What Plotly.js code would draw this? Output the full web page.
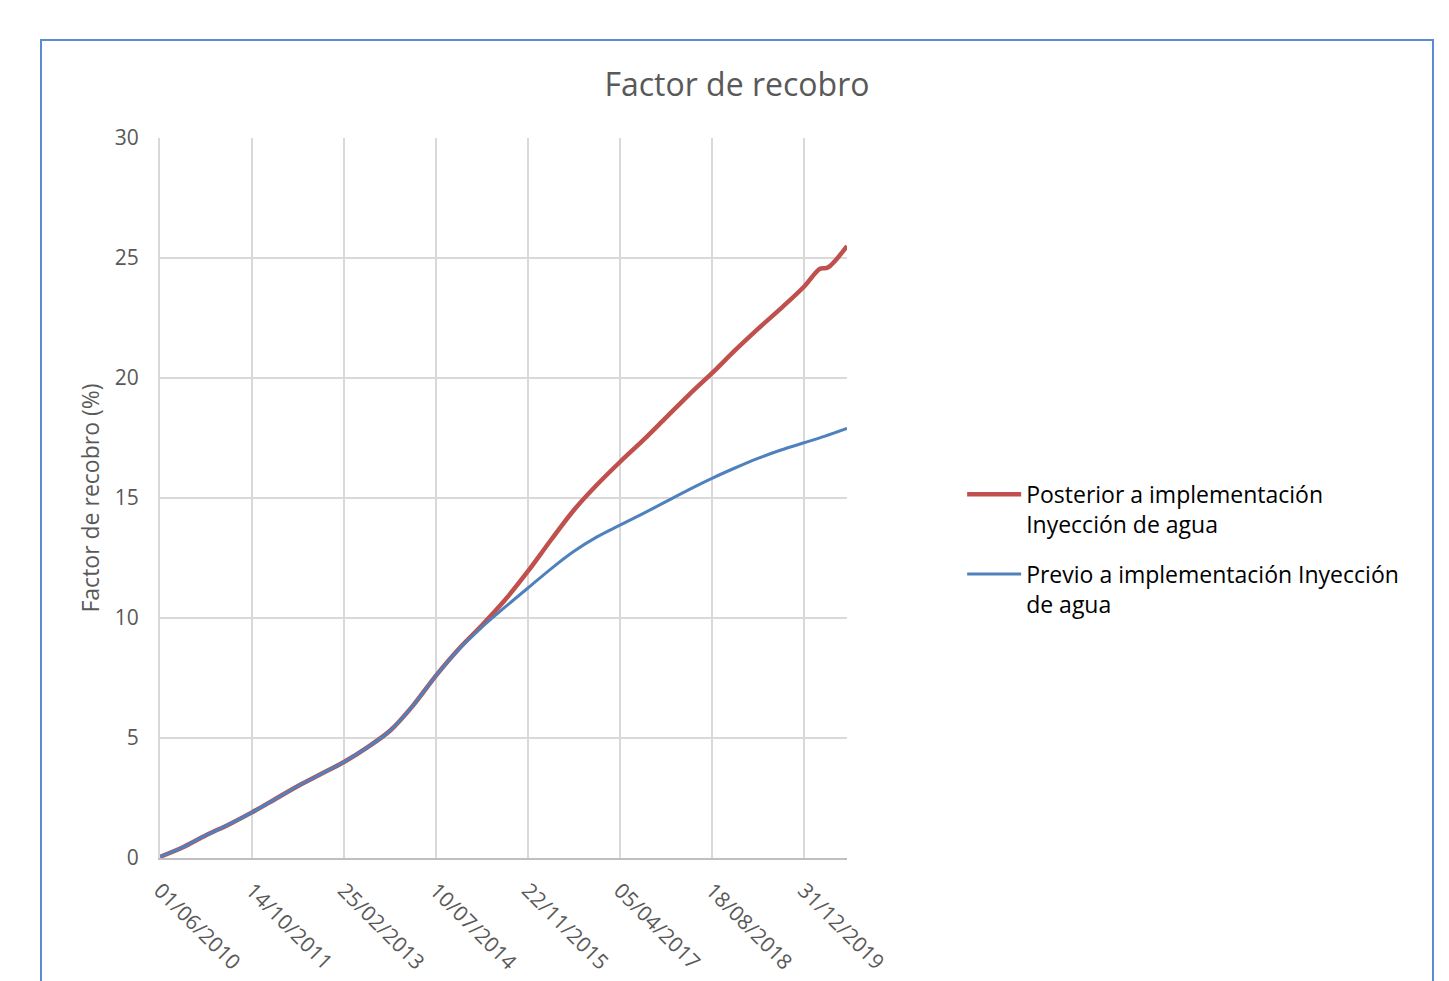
<!DOCTYPE html>
<html>
<head>
<meta charset="utf-8">
<script src="https://cdn.plot.ly/plotly-3.0.1.min.js"></script>
<style>
  html, body { margin: 0; padding: 0; background: #ffffff; }
  #frame { position: absolute; left: 40px; top: 39px; width: 1394px; height: 1000px;
           border: 2px solid #5b8bd0; box-sizing: border-box; pointer-events: none; z-index: 5; }
  #chart { position: absolute; left: 0; top: 0; width: 1449px; height: 981px; }
</style>
</head>
<body>
<div id="chart"></div>
<div id="frame"></div>
<script>
// Dates of the readings
const datesPost = [
  '2010-06-01','2010-10-04','2011-02-06','2011-06-11','2011-10-14','2012-02-16','2012-06-20',
  '2012-10-23','2013-02-25','2013-06-30','2013-11-02','2014-03-07','2014-07-10','2014-11-12',
  '2015-03-17','2015-07-20','2015-11-22','2016-03-26','2016-07-29','2016-12-01','2017-04-05',
  '2017-08-08','2017-12-11','2018-04-15','2018-08-18','2018-12-21','2019-04-25','2019-08-28',
  '2019-12-31','2020-03-27','2020-05-09','2020-08-21'
];
const valuesPost = [
  0.05, 0.45, 0.95, 1.4, 1.9, 2.45, 3.0,
  3.5, 4.0, 4.6, 5.3, 6.35, 7.6, 8.72,
  9.7, 10.75, 11.95, 13.25, 14.5, 15.55, 16.5,
  17.4, 18.35, 19.3, 20.2, 21.15, 22.05, 22.9,
  23.8, 24.55, 24.6, 25.5
];
const datesPrev = [
  '2010-06-01','2010-10-04','2011-02-06','2011-06-11','2011-10-14','2012-02-16','2012-06-20',
  '2012-10-23','2013-02-25','2013-06-30','2013-11-02','2014-03-07','2014-07-10','2014-11-12',
  '2015-03-17','2015-07-20','2015-11-22','2016-03-26','2016-07-29','2016-12-01','2017-04-05',
  '2017-08-08','2017-12-11','2018-04-15','2018-08-18','2018-12-21','2019-04-25','2019-08-28',
  '2019-12-31','2020-04-20','2020-08-21'
];
const valuesPrev = [
  0.05, 0.45, 0.95, 1.4, 1.9, 2.45, 3.0,
  3.5, 4.0, 4.6, 5.3, 6.35, 7.6, 8.7,
  9.62, 10.45, 11.25, 12.05, 12.78, 13.38, 13.87,
  14.35, 14.85, 15.35, 15.82, 16.25, 16.65, 17.0,
  17.3, 17.57, 17.9
];
const tickDates = ['2010-06-01','2011-10-14','2013-02-25','2014-07-10','2015-11-22','2017-04-05','2018-08-18','2019-12-31'];
const tickLabels = ['01/06/2010','14/10/2011','25/02/2013','10/07/2014','22/11/2015','05/04/2017','18/08/2018','31/12/2019'];
const seriesNames = ['Posterior a implementación<br>Inyección de agua', 'Previo a implementación Inyección<br>de agua'];

const FONT = 'Open Sans, Noto Sans, sans-serif';
const traces = [
  { x: datesPost, y: valuesPost, type: 'scatter', mode: 'lines', name: seriesNames[0], legendgroup: 'g1',
    line: { color: '#c0504d', width: 4.5, shape: 'spline', smoothing: 0.9 } },
  { x: datesPrev, y: valuesPrev, type: 'scatter', mode: 'lines', name: seriesNames[1], legendgroup: 'g2',
    line: { color: '#4f81bd', width: 3, shape: 'spline', smoothing: 0.9 } }
];

const layout = {
  width: 1449, height: 981,
  margin: { l: 160, r: 602, t: 138, b: 123 },
  paper_bgcolor: '#ffffff', plot_bgcolor: '#ffffff',
  font: { family: FONT, color: '#595959' },
  title: { text: 'Factor de recobro', font: { family: FONT, size: 32, color: '#595959' },
           xref: 'container', x: 0.5086, xanchor: 'center', yref: 'container', y: 0.914, yanchor: 'middle' },
  xaxis: {
    type: 'date', range: ['2010-06-01', '2020-08-21'],
    tickvals: tickDates, ticktext: tickLabels, tickangle: 45,
    tickfont: { family: FONT, size: 21, color: '#595959' },
    showgrid: true, gridcolor: '#d9d9d9', gridwidth: 2,
    showline: true, linecolor: '#bfbfbf', linewidth: 2,
    zeroline: false, ticks: '', ticklabelstandoff: 10
  },
  yaxis: {
    range: [0, 30], dtick: 5, tick0: 0,
    tickfont: { family: FONT, size: 21, color: '#595959' },
    showgrid: true, gridcolor: '#d9d9d9', gridwidth: 2,
    showline: true, linecolor: '#d9d9d9', linewidth: 2,
    zeroline: false, ticks: '', ticklabelstandoff: 15,
    title: { text: 'Factor de recobro (%)', font: { family: FONT, size: 23, color: '#595959' }, standoff: 9 }
  },
  showlegend: true,
  legend: {
    xref: 'container', yref: 'container', x: 0.664, y: 0.518, xanchor: 'left', yanchor: 'top',
    font: { family: FONT, size: 23, color: '#000000' }, valign: 'top',
    bgcolor: 'rgba(0,0,0,0)', tracegroupgap: 17, itemwidth: 54
  }
};

Plotly.newPlot('chart', traces, layout, { displayModeBar: false, staticPlot: true });
</script>
</body>
</html>
